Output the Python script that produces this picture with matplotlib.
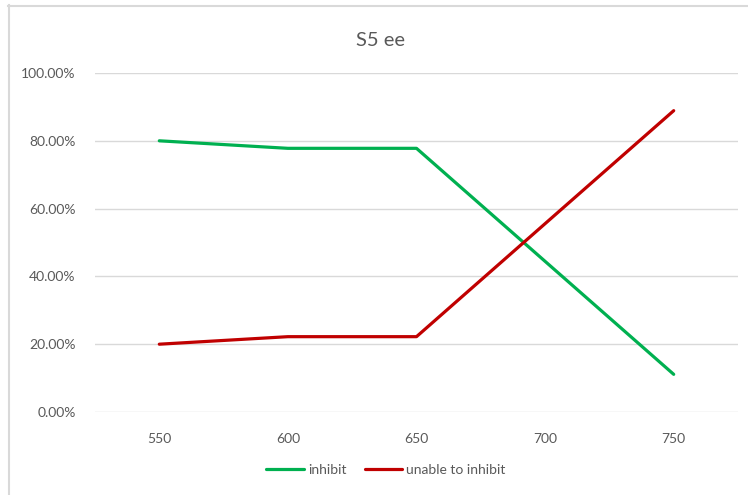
import matplotlib
matplotlib.use("Agg")
import matplotlib.pyplot as plt
from matplotlib.lines import Line2D
from matplotlib.ticker import PercentFormatter

# Data
categories = ["550", "600", "650", "700", "750"]
inhibit = [0.80, 0.7778, 0.7778, 0.4444, 0.1111]
unable_to_inhibit = [0.20, 0.2222, 0.2222, 0.5556, 0.8889]
title = "S5 ee"

GREEN = "#00B050"
RED = "#C00000"
GRID = "#D9D9D9"
TEXT = "#595959"

plt.rcParams["font.family"] = ["Lato", "DejaVu Sans"]

W, H = 748, 495
fig = plt.figure(figsize=(W / 100, H / 100), dpi=100)
ax = fig.add_axes([95 / W, 1 - 412 / H, (738 - 95) / W, (412 - 73) / H])

x = list(range(len(categories)))
ax.plot(x, inhibit, color=GREEN, lw=2.3, solid_capstyle="round", label="inhibit")
ax.plot(x, unable_to_inhibit, color=RED, lw=2.3, solid_capstyle="round", label="unable to inhibit")

ax.set_xlim(-0.5, len(categories) - 0.5)
ax.set_ylim(0, 1)
ax.set_yticks([0, 0.2, 0.4, 0.6, 0.8, 1.0])
ax.yaxis.set_major_formatter(PercentFormatter(1.0, decimals=2))
ax.set_xticks(x)
ax.set_xticklabels(categories)
ax.grid(axis="y", color=GRID, lw=1)
ax.set_axisbelow(True)
for s in ax.spines.values():
    s.set_visible(False)
ax.tick_params(axis="both", length=0, labelsize=10, labelcolor=TEXT)
ax.tick_params(axis="x", pad=15)
ax.tick_params(axis="y", pad=14)

fig.text(380 / W, 1 - 40 / H, title, ha="center", va="center", fontsize=14.5, color=TEXT)

fig.legend(loc="center", bbox_to_anchor=(386 / W, 1 - 470 / H), ncol=2, frameon=False,
           fontsize=10, labelcolor=TEXT, handlelength=2.7, handletextpad=0.3, columnspacing=1.3)

# chart-area border (top and left edges)
fig.add_artist(Line2D([8 / W, 1], [1 - 5.5 / H, 1 - 5.5 / H], transform=fig.transFigure, color=GRID, lw=1.5))
fig.add_artist(Line2D([8.5 / W, 8.5 / W], [0, 1 - 5 / H], transform=fig.transFigure, color=GRID, lw=1.5))

fig.savefig("out.png", dpi=100)
